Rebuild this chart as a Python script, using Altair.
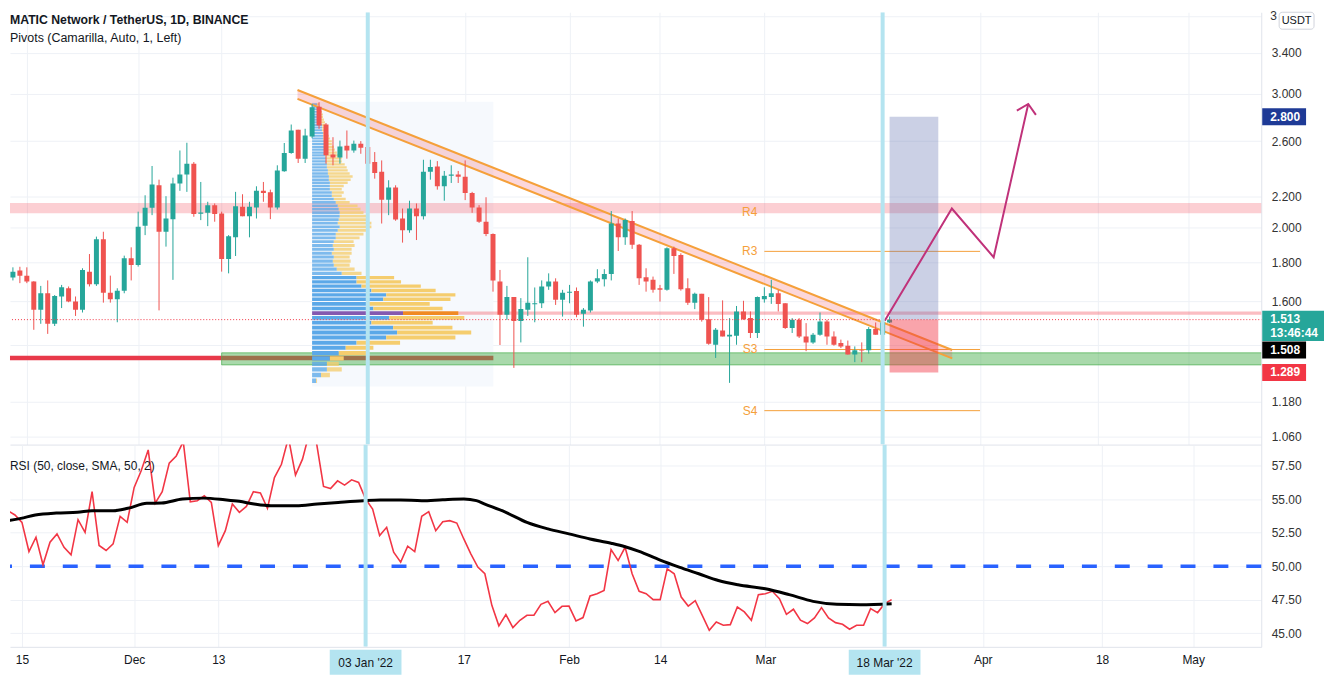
import altair as alt
import pandas as pd

# ---------------- data (day index 0 = 2021-11-15) ----------------
FIRST_DAY = -3  # first candle: 2021-11-12
opens = [1.759,1.719,1.756,1.729,1.698,1.559,1.639,1.494,1.623,1.664,
         1.598,1.559,1.750,1.685,1.930,1.642,1.610,1.652,1.822,1.786,
         2.011,2.124,2.274,1.975,2.052,2.286,2.349,2.428,2.086,2.092,
         2.141,2.088,1.818,1.942,2.130,2.070,2.126,2.236,2.226,2.126,
         2.373,2.507,2.691,2.465,2.636,2.886,2.734,2.497,2.473,2.564,
         2.527,2.579,2.553,2.440,2.369,2.177,2.258,2.056,1.984,2.119,
         2.070,2.369,2.408,2.267,2.340,2.349,2.333,2.222,2.126,2.036,
         1.961,1.698,1.535,1.620,1.507,1.559,1.585,1.590,1.673,1.698,
         1.607,1.642,1.650,1.540,1.556,1.698,1.710,1.738,2.025,1.942,
         2.040,1.898,1.720,1.707,1.664,1.656,1.878,1.841,1.664,1.593,
         1.636,1.515,1.402,1.464,1.438,1.441,1.551,1.520,1.453,1.610,
         1.620,1.639,1.590,1.475,1.512,1.438,1.412,1.445,1.504,1.438,
         1.409,1.398,1.361,1.379,1.379,1.471,1.445,1.500]
closes = [1.719,1.750,1.729,1.698,1.559,1.639,1.494,1.626,1.669,1.598,
          1.559,1.759,1.685,1.930,1.642,1.610,1.652,1.822,1.786,2.005,
          2.124,2.279,1.975,2.056,2.286,2.349,2.428,2.084,2.094,2.141,
          2.084,1.818,1.949,2.134,2.070,2.130,2.236,2.222,2.126,2.379,
          2.507,2.685,2.465,2.644,2.881,2.726,2.490,2.473,2.557,2.527,
          2.579,2.548,2.428,2.361,2.177,2.258,2.050,1.984,2.119,2.070,
          2.369,2.404,2.267,2.340,2.349,2.333,2.222,2.126,2.036,1.961,
          1.704,1.535,1.620,1.507,1.562,1.593,1.590,1.673,1.698,1.607,
          1.642,1.647,1.535,1.559,1.698,1.715,1.738,2.025,1.942,2.046,
          1.898,1.715,1.698,1.656,1.656,1.878,1.835,1.659,1.593,1.636,
          1.512,1.406,1.467,1.438,1.445,1.551,1.515,1.453,1.620,1.626,
          1.639,1.587,1.475,1.512,1.438,1.412,1.445,1.504,1.438,1.402,
          1.395,1.361,1.379,1.377,1.471,1.445,1.500,1.513]
highs = [1.777,1.773,1.776,1.773,1.700,1.676,1.704,1.630,1.681,1.673,
         1.623,1.768,1.846,1.946,1.975,1.729,1.664,1.837,1.884,2.099,
         2.206,2.411,2.313,2.200,2.327,2.527,2.587,2.440,2.297,2.163,
         2.152,2.099,1.955,2.229,2.213,2.163,2.267,2.297,2.244,2.416,
         2.585,2.734,2.691,2.699,2.910,2.925,2.746,2.631,2.604,2.685,
         2.604,2.600,2.564,2.515,2.452,2.309,2.274,2.119,2.170,2.152,
         2.457,2.457,2.447,2.375,2.416,2.375,2.452,2.229,2.141,2.193,
         1.965,1.759,1.676,1.620,1.615,1.828,1.668,1.704,1.741,1.715,
         1.656,1.681,1.668,1.567,1.704,1.763,1.763,2.103,2.056,2.056,
         2.103,1.903,1.768,1.724,1.681,1.884,1.888,1.850,1.715,1.642,
         1.636,1.620,1.475,1.604,1.520,1.577,1.602,1.551,1.623,1.669,
         1.707,1.656,1.590,1.520,1.520,1.497,1.453,1.546,1.512,1.460,
         1.424,1.420,1.395,1.412,1.479,1.500,1.520,1.527]
lows = [1.705,1.704,1.690,1.690,1.467,1.494,1.449,1.484,1.567,1.595,
        1.530,1.546,1.673,1.676,1.593,1.593,1.501,1.639,1.704,1.777,
        1.955,2.077,1.556,1.888,1.707,2.236,2.229,2.067,2.046,2.009,
        2.036,1.750,1.741,1.835,2.070,1.942,2.056,2.163,2.052,2.113,
        2.369,2.502,2.433,2.433,2.623,2.699,2.428,2.416,2.428,2.465,
        2.510,2.502,2.369,2.320,2.025,2.077,2.042,1.911,1.969,1.926,
        2.050,2.313,2.244,2.170,2.290,2.290,2.174,2.092,2.029,1.949,
        1.647,1.401,1.512,1.307,1.412,1.530,1.501,1.567,1.656,1.582,
        1.527,1.590,1.524,1.481,1.546,1.690,1.673,1.704,1.863,1.898,
        1.875,1.681,1.647,1.642,1.598,1.652,1.738,1.652,1.582,1.562,
        1.504,1.402,1.347,1.438,1.249,1.402,1.512,1.431,1.431,1.593,
        1.587,1.551,1.471,1.453,1.431,1.375,1.406,1.441,1.402,1.398,
        1.388,1.361,1.330,1.330,1.365,1.445,1.424,1.497]

rsi_values = [53.89,54.14,53.82,53.27,51.09,52.16,50.10,51.79,52.41,51.41,
              50.84,53.47,52.53,55.56,51.54,51.17,51.66,53.72,53.27,55.88,
              57.12,58.68,54.71,55.56,57.69,58.23,59.30,54.81,54.89,55.26,
              54.76,51.54,52.65,54.64,54.02,54.46,55.56,55.46,54.32,56.62,
              57.61,59.60,56.80,57.99,60.00,59.20,55.95,55.80,56.37,56.05,
              56.45,56.25,55.01,54.27,52.28,52.90,51.04,50.30,51.49,51.09,
              53.72,54.07,52.65,53.32,53.40,53.22,52.03,50.92,49.93,49.43,
              47.07,45.54,46.38,45.41,45.96,46.33,46.33,47.15,47.37,46.53,
              47.00,47.02,45.91,46.16,47.77,47.94,48.19,51.24,50.42,51.41,
              49.43,48.12,47.94,47.50,47.50,49.80,49.43,47.69,47.02,47.42,
              46.33,45.21,45.83,45.59,45.63,46.95,46.58,45.96,47.87,47.94,
              48.12,47.57,46.40,46.78,45.96,45.71,46.13,46.90,46.13,45.78,
              45.66,45.29,45.59,45.59,46.83,46.53,47.20,47.50]

sma_days = [-2.8,-0.15,1.9,4.9,7.9,10,13,15.1,17.8,19.9,22.9,25.9,28.9,31,33.1,35.5,
            39.1,42.1,45.1,48.7,51.1,54,57,60,63,64.8,66,69,72,75,78,81,84,86,88,91,
            93.7,96.5,99.3,102.1,106,109.4,112.8,116.2,119.6,124]
sma_values = [53.32,53.57,53.82,53.97,54.02,54.14,54.14,54.32,54.69,54.71,55.01,55.08,
              54.96,54.84,54.64,54.51,54.51,54.64,54.76,54.89,54.94,54.94,54.89,54.96,
              55.01,54.89,54.64,54.02,53.27,52.78,52.41,52.03,51.71,51.45,51.10,50.45,
              49.93,49.43,48.93,48.61,48.31,47.87,47.37,47.15,47.12,47.20]

# volume profile (fixed range, starting Dec 26)
vp_first_price = 1.257
vp_step = 0.022
vp_up = [4,9,15,15,18,27,34,45,75,86,82,60,78,92,62,55,72,75,60,50,
         45,45,30,25,22,21,22,20,22,21,22,24,24,26,28,26,27,28,28,27,
         26,24,22,20,20,18,18,18,17,17,16,16,15,15,14,14,13,13,13,12,
         12,12,11,11,11,10,10,10,9,9,8,8,7,7,6,5]
vp_down = [1,9,15,12,14,30,28,44,70,75,60,62,76,56,70,64,68,70,65,60,
           45,38,20,18,16,18,16,20,18,22,20,24,28,30,32,34,30,28,24,22,
           20,14,12,10,12,12,14,18,22,24,22,20,20,18,16,16,14,12,10,10,
           8,8,7,6,5,5,4,4,4,3,3,3,3,2,2,2]
vp_start_day = 41
vp_end_day = 67.05
vp_poc_index = 13
vp_value_area = (4, 21)

# drawings
channel_days = [38.9, 133.0]
channel_upper = [3.036, 1.380]
channel_lower = [2.955, 1.345]
pivot_names = ["R4", "R3", "S3", "S4"]
pivot_prices = [2.100, 1.861, 1.382, 1.148]
pivot_from, pivot_to = 106, 137
r4_zone = (2.089, 2.155)
poc_zone = (1.535, 1.551)
support_zone = (1.319, 1.368)
support_zone_start = 28
red_level = 1.347
last_price = 1.513
pos_days = (124, 131)
pos_target, pos_stop = 2.800, 1.289
path_days = [123.3, 132.95, 138.96, 143.93]
path_prices = [1.508, 2.119, 1.828, 2.910]
arrow_days = [142.29, 143.93, 145.03]
arrow_prices = [2.852, 2.910, 2.815]
vline_days = [49, 123]

tick_days = [0, 16, 28, 49, 63, 78, 91, 106, 123, 137, 154, 167]
tick_text = ["15", "Dec", "13", "03 Jan '22", "17", "Feb", "14", "Mar", "18 Mar '22", "Apr", "18", "May"]
price_ticks = [3.8, 3.4, 3.0, 2.6, 2.2, 2.0, 1.8, 1.6, 1.4, 1.18, 1.06]
hidden_price_labels = [3.8, 1.4]   # covered by the currency box / price tags
rsi_ticks = [45, 47.5, 50, 52.5, 55, 57.5]

# ---------------- layout / style ----------------
W, HP, HR = 1256, 434, 203
X_DOMAIN = [-1.705, 176.7]
P_DOMAIN = [1.0357, 3.843]
R_DOMAIN = [43.973, 59.077]
X_LO, X_HI = -6, 185
TEAL, RED = "#26a69a", "#ef5350"
GRID, BORDER = "#eef1f6", "#e0e3eb"
ORANGE = "#f5a03a"
CYAN = "#b4e4f0"
FONT = "Liberation Sans"
TXT = "#131722"

xscale = alt.Scale(domain=X_DOMAIN, nice=False, zero=False)
pscale = alt.Scale(type="log", domain=P_DOMAIN, nice=False)
rscale = alt.Scale(domain=R_DOMAIN, nice=False, zero=False)

x_axis_p = alt.Axis(values=tick_days, labels=False, ticks=False, domain=True, domainColor=BORDER,
                    grid=True, gridColor=GRID, title=None)
label_expr = ("[" + ",".join("'%s'" % ("" if d in vline_days else t) for d, t in zip(tick_days, tick_text))
              + "][indexof([" + ",".join(str(d) for d in tick_days) + "], datum.value)]")
x_axis_r = alt.Axis(values=tick_days, labelExpr=label_expr, ticks=False, domain=True, domainColor=BORDER,
                    grid=True, gridColor=GRID, title=None, labelPadding=8, labelColor=TXT,
                    labelFontSize=12, labelFont=FONT)
p_label_expr = ("indexof([" + ",".join(str(v) for v in hidden_price_labels)
                + "], datum.value) >= 0 ? '' : format(datum.value, '.3f')")
p_axis = alt.Axis(orient="right", values=price_ticks, labelExpr=p_label_expr, grid=True, gridColor=GRID,
                  ticks=False, labelPadding=10, domain=True, domainColor=BORDER, title=None,
                  labelOverlap=False, labelColor="#333333", labelFontSize=12, labelFont=FONT)
r_axis = alt.Axis(orient="right", values=rsi_ticks, format=".2f", grid=True, gridColor=GRID, ticks=False,
                  labelPadding=10, domain=True, domainColor=BORDER, title=None, labelOverlap=False,
                  labelColor="#333333", labelFontSize=12, labelFont=FONT)


def PX(f):
    return alt.X(f, type="quantitative", scale=xscale, axis=x_axis_p)


def PY(f):
    return alt.Y(f, type="quantitative", scale=pscale, axis=p_axis)


def RX(f):
    return alt.X(f, type="quantitative", scale=xscale, axis=x_axis_r)


def RY(f):
    return alt.Y(f, type="quantitative", scale=rscale, axis=r_axis)


# ---------------- tables ----------------
days = list(range(FIRST_DAY, FIRST_DAY + len(opens)))
candles = pd.DataFrame(dict(d=days, o=opens, h=highs, l=lows, c=closes))
candles["col"] = [TEAL if c >= o else RED for o, c in zip(opens, closes)]

k = 1 / 7.04  # profile width: days per volume unit
vp_rows = []
for i, (u, dn) in enumerate(zip(vp_up, vp_down)):
    cpx = vp_first_price + vp_step * i
    lo, hi = cpx - 0.0085, cpx + 0.0085
    x1 = vp_start_day + u * k
    x2 = x1 + dn * k
    poc = i == vp_poc_index
    op = 1.0 if vp_value_area[0] <= i <= vp_value_area[1] else 0.78
    vp_rows.append(dict(a=vp_start_day, b=x1, lo=lo, hi=hi, col="#8459b0" if poc else "#5ba8e8", op=op))
    vp_rows.append(dict(a=x1, b=x2, lo=lo, hi=hi, col="#f08a24" if poc else "#f5cd6e", op=op))
vp = pd.DataFrame(vp_rows)

one = pd.DataFrame({"z": [0]})

layers = []
# faint range background of the fixed range profile
layers.append(alt.Chart(pd.DataFrame(dict(a=[vp_start_day], b=[vp_end_day], lo=[1.235], hi=[2.93])))
              .mark_rect(color="#f6f9fd", clip=True).encode(x=PX("a"), x2="b", y=PY("lo"), y2="hi"))
# pink zones
zones = pd.DataFrame([dict(a=X_LO, b=X_HI, lo=r4_zone[0], hi=r4_zone[1], op=0.24),
                      dict(a=62.0, b=X_HI, lo=poc_zone[0], hi=poc_zone[1], op=0.33)])
layers.append(alt.Chart(zones).mark_rect(color="#f23645", clip=True)
              .encode(x=PX("a"), x2="b", y=PY("lo"), y2="hi", opacity=alt.Opacity("op:Q", scale=None)))
# red horizontal level
layers.append(alt.Chart(pd.DataFrame(dict(a=[X_LO], b=[vp_end_day], p=[red_level])))
              .mark_rule(color="#e8394a", strokeWidth=4.5, clip=True).encode(x=PX("a"), x2="b", y=PY("p")))
# green support zone
layers.append(alt.Chart(pd.DataFrame(dict(a=[support_zone_start], b=[X_HI], lo=[support_zone[0]], hi=[support_zone[1]])))
              .mark_rect(fill="#4caf50", fillOpacity=0.48, stroke="#4caf50", strokeOpacity=0.7, strokeWidth=1, clip=True)
              .encode(x=PX("a"), x2="b", y=PY("lo"), y2="hi"))
# volume profile
layers.append(alt.Chart(vp).mark_rect(clip=True).encode(
    x=PX("a"), x2="b", y=PY("lo"), y2="hi", color=alt.Color("col:N", scale=None),
    opacity=alt.Opacity("op:Q", scale=None)))
# pivots
piv = pd.DataFrame(dict(name=pivot_names, p=pivot_prices, d0=pivot_from, d1=pivot_to))
layers.append(alt.Chart(piv[piv["name"] != "R4"]).mark_rule(color=ORANGE, strokeWidth=1, clip=True)
              .encode(x=PX("d0"), x2="d1", y=PY("p")))
layers.append(alt.Chart(piv).mark_text(align="right", dx=-7, baseline="middle", fontSize=12, color=ORANGE, font=FONT)
              .encode(x=PX("d0"), y=PY("p"), text="name:N"))
# descending channel
chan = pd.DataFrame(dict(d=channel_days, up=channel_upper, lo=channel_lower))
layers.append(alt.Chart(chan).mark_area(color="#f23645", opacity=0.2, clip=True).encode(x=PX("d"), y=PY("up"), y2="lo"))
layers.append(alt.Chart(chan).mark_line(color=ORANGE, strokeWidth=2, clip=True).encode(x=PX("d"), y=PY("up")))
layers.append(alt.Chart(chan).mark_line(color=ORANGE, strokeWidth=2, clip=True).encode(x=PX("d"), y=PY("lo")))
# candles
layers.append(alt.Chart(candles).mark_rule(strokeWidth=1, clip=True).encode(
    x=PX("d"), y=PY("l"), y2="h", color=alt.Color("col:N", scale=None)))
layers.append(alt.Chart(candles).mark_bar(width=5, clip=True).encode(
    x=PX("d"), y=PY("o"), y2="c", color=alt.Color("col:N", scale=None)))
# long position tool
pos = pd.DataFrame([dict(a=pos_days[0], b=pos_days[1], lo=last_price, hi=pos_target, col="#6674b4", op=0.34),
                    dict(a=pos_days[0], b=pos_days[1], lo=pos_stop, hi=last_price, col="#f23645", op=0.45)])
layers.append(alt.Chart(pos).mark_rect(clip=True).encode(
    x=PX("a"), x2="b", y=PY("lo"), y2="hi", color=alt.Color("col:N", scale=None),
    opacity=alt.Opacity("op:Q", scale=None)))
# last price dotted line
layers.append(alt.Chart(pd.DataFrame(dict(a=[X_LO], b=[X_HI], p=[last_price])))
              .mark_rule(color="#f23645", strokeWidth=1, strokeDash=[1, 2], clip=True)
              .encode(x=PX("a"), x2="b", y=PY("p")))
# forecast path with arrow
path = pd.DataFrame(dict(d=path_days, p=path_prices, o=range(len(path_days))))
arrow = pd.DataFrame(dict(d=arrow_days, p=arrow_prices, o=range(len(arrow_days))))
for df in (path, arrow):
    layers.append(alt.Chart(df).mark_line(color="#c0327a", strokeWidth=2, clip=True)
                  .encode(x=PX("d"), y=PY("p"), order="o:Q"))
# vertical cyan lines
vl = pd.DataFrame(dict(d=vline_days))
layers.append(alt.Chart(vl).mark_rule(color=CYAN, strokeWidth=4, clip=True).encode(x=PX("d")))
# price tags on the axis
tags = pd.DataFrame(dict(txt=["2.800", "1.508", "1.289"], p=[2.800, 1.380, 1.289],
                         bg=["#1e3a96", "#000000", "#f23645"]))
layers.append(alt.Chart(tags).mark_rect(yOffset=-8.5, y2Offset=8.5).encode(
    x=alt.value(W + 1), x2=alt.value(W + 45), y=PY("p"), y2="p", color=alt.Color("bg:N", scale=None)))
layers.append(alt.Chart(tags).mark_text(align="left", baseline="middle", color="white", fontWeight="bold",
                                        fontSize=12, font=FONT)
              .encode(x=alt.value(W + 9), y=PY("p"), text="txt:N"))
last = pd.DataFrame(dict(p=[last_price], t1=["1.513"], t2=["13:46:44"]))
layers.append(alt.Chart(last).mark_rect(color=TEAL, yOffset=-9, y2Offset=21.5).encode(
    x=alt.value(W + 1), x2=alt.value(W + 63), y=PY("p"), y2="p"))
layers.append(alt.Chart(last).mark_text(align="left", baseline="middle", color="white", fontWeight="bold",
                                        fontSize=12, font=FONT, dy=-1)
              .encode(x=alt.value(W + 9), y=PY("p"), text="t1:N"))
layers.append(alt.Chart(last).mark_text(align="left", baseline="middle", color="white", fontWeight="bold",
                                        fontSize=12, font=FONT, dy=13)
              .encode(x=alt.value(W + 9), y=PY("p"), text="t2:N"))
# currency box, with the clipped top tick label peeking out on its left
layers.append(alt.Chart(pd.DataFrame({"p": [3.8], "t": ["3"]}))
              .mark_text(align="left", baseline="middle", fontSize=12, color="#333333", font=FONT)
              .encode(x=alt.value(W + 9), y=PY("p"), text="t:N"))
layers.append(alt.Chart(one).mark_rect(fill="white", stroke="#d1d4dc", strokeWidth=1, cornerRadius=3).encode(
    x=alt.value(W + 18), x2=alt.value(W + 53), y=alt.value(0), y2=alt.value(17)))
layers.append(alt.Chart(pd.DataFrame({"t": ["USDT"]})).mark_text(align="center", baseline="middle", fontSize=11,
                                                                 color=TXT, font=FONT)
              .encode(x=alt.value(W + 35.5), y=alt.value(9), text="t:N"))
# titles
layers.append(alt.Chart(pd.DataFrame({"t": ["MATIC Network / TetherUS, 1D, BINANCE"]}))
              .mark_text(align="left", baseline="middle", fontSize=12.3, fontWeight="bold", color=TXT, font=FONT)
              .encode(x=alt.value(0), y=alt.value(8), text="t:N"))
layers.append(alt.Chart(pd.DataFrame({"t": ["Pivots (Camarilla, Auto, 1, Left)"]}))
              .mark_text(align="left", baseline="middle", fontSize=12.5, color=TXT, font=FONT)
              .encode(x=alt.value(0), y=alt.value(26), text="t:N"))

price = alt.layer(*layers).properties(width=W, height=HP)

# ---------------- RSI pane ----------------
rsi_df = pd.DataFrame(dict(d=days, v=rsi_values))
sma_df = pd.DataFrame(dict(d=sma_days, v=sma_values))
rl = []
rl.append(alt.Chart(pd.DataFrame(dict(v=[50]))).mark_rule(color="#2962ff", strokeWidth=3.5, strokeDash=[15, 18])
          .encode(y=RY("v")))
rl.append(alt.Chart(rsi_df).mark_line(color="#f23645", strokeWidth=1.6, clip=True).encode(x=RX("d"), y=RY("v")))
rl.append(alt.Chart(sma_df).mark_line(color="#000000", strokeWidth=3, interpolate="monotone", clip=True)
          .encode(x=RX("d"), y=RY("v")))
rl.append(alt.Chart(vl).mark_rule(color=CYAN, strokeWidth=4, clip=True).encode(x=RX("d")))
rl.append(alt.Chart(pd.DataFrame({"t": ["RSI (50, close, SMA, 50, 2)"]}))
          .mark_text(align="left", baseline="middle", fontSize=12, color=TXT, font=FONT)
          .encode(x=alt.value(0), y=alt.value(21), text="t:N"))
hl = pd.DataFrame(dict(d=vline_days, t=[tick_text[tick_days.index(d)] for d in vline_days]))
rl.append(alt.Chart(hl).mark_rect(color=CYAN, xOffset=-36, x2Offset=36).encode(
    x=RX("d"), x2="d", y=alt.value(HR + 3), y2=alt.value(HR + 28)))
rl.append(alt.Chart(hl).mark_text(align="center", baseline="middle", fontSize=12, color=TXT, font=FONT)
          .encode(x=RX("d"), y=alt.value(HR + 16), text="t:N"))
rsi = alt.layer(*rl).properties(width=W, height=HR)

chart = (alt.vconcat(price, rsi, spacing=0)
         .properties(padding=0)
         .configure_view(stroke=None)
         .configure_text(font=FONT))

chart.save("out.html", embed_options={"renderer": "svg", "actions": False})
